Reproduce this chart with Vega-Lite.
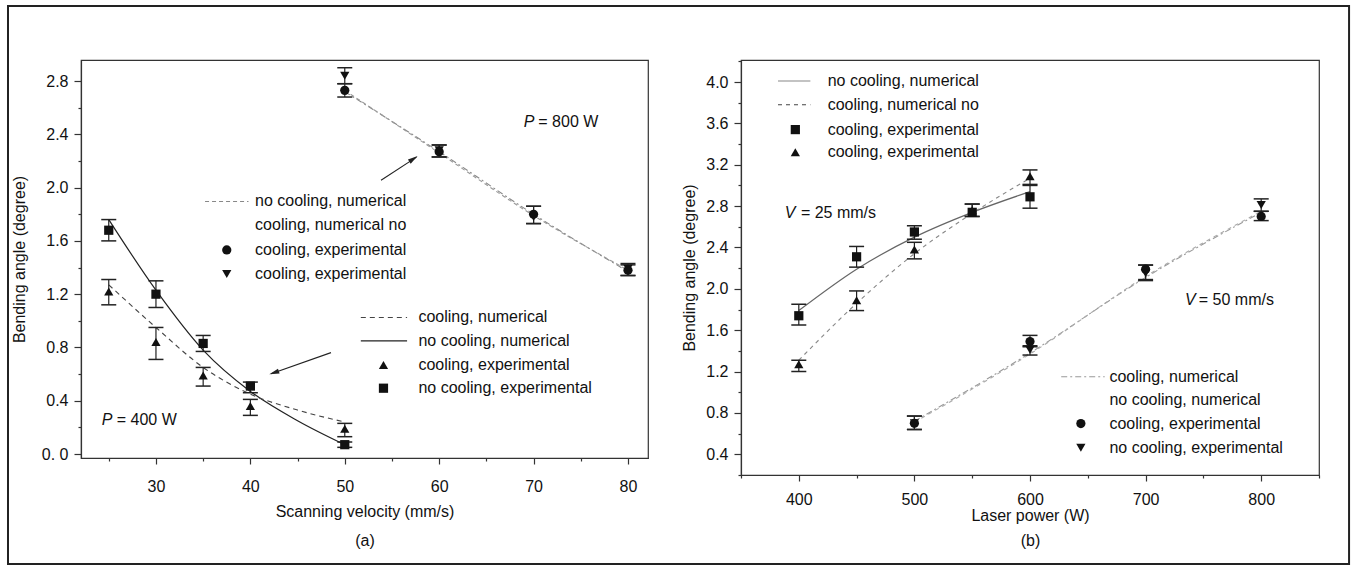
{
  "$schema": "https://vega.github.io/schema/vega-lite/v6.json",
  "background": "white",
  "padding": {"left": 6, "top": 4, "right": 0, "bottom": 0},
  "bounds": "flush",
  "spacing": 93,
  "config": {
    "font": "Liberation Sans",
    "view": {"stroke": "#333", "strokeWidth": 1.2},
    "axis": {"grid": false, "labelOverlap": false, "domainColor": "#333", "domainWidth": 1.2, "tickColor": "#333", "tickWidth": 1.2, "labelColor": "#111", "titleColor": "#111", "labelFontSize": 16, "titleFontSize": 16, "titleFontWeight": "normal", "labelFont": "Liberation Sans", "titleFont": "Liberation Sans"},
    "text": {"font": "Liberation Sans", "fontSize": 16, "color": "#111"}
  },
  "datasets": {
    "a_pts": [
      {"v": 25, "angle": 1.68, "lo": 1.60, "hi": 1.76, "series": "400 W no cooling exp"},
      {"v": 30, "angle": 1.20, "lo": 1.10, "hi": 1.30, "series": "400 W no cooling exp"},
      {"v": 35, "angle": 0.83, "lo": 0.77, "hi": 0.89, "series": "400 W no cooling exp"},
      {"v": 40, "angle": 0.51, "lo": 0.46, "hi": 0.54, "series": "400 W no cooling exp"},
      {"v": 50, "angle": 0.07, "lo": 0.05, "hi": 0.09, "series": "400 W no cooling exp"},
      {"v": 25, "angle": 1.22, "lo": 1.12, "hi": 1.31, "series": "400 W cooling exp"},
      {"v": 30, "angle": 0.84, "lo": 0.71, "hi": 0.95, "series": "400 W cooling exp"},
      {"v": 35, "angle": 0.59, "lo": 0.51, "hi": 0.65, "series": "400 W cooling exp"},
      {"v": 40, "angle": 0.36, "lo": 0.29, "hi": 0.41, "series": "400 W cooling exp"},
      {"v": 50, "angle": 0.19, "lo": 0.13, "hi": 0.23, "series": "400 W cooling exp"},
      {"v": 50, "angle": 2.73, "lo": 2.68, "hi": 2.78, "series": "800 W cooling exp"},
      {"v": 60, "angle": 2.27, "lo": 2.23, "hi": 2.32, "series": "800 W cooling exp"},
      {"v": 70, "angle": 1.80, "lo": 1.73, "hi": 1.86, "series": "800 W cooling exp"},
      {"v": 80, "angle": 1.38, "lo": 1.34, "hi": 1.42, "series": "800 W cooling exp"},
      {"v": 50, "angle": 2.84, "lo": 2.78, "hi": 2.90, "series": "800 W no cooling exp"},
      {"v": 60, "angle": 2.28, "lo": 2.23, "hi": 2.32, "series": "800 W no cooling exp"},
      {"v": 70, "angle": 1.78, "lo": 1.73, "hi": 1.86, "series": "800 W no cooling exp"},
      {"v": 80, "angle": 1.39, "lo": 1.34, "hi": 1.43, "series": "800 W no cooling exp"}
    ],
    "a_lines": [
      {"v": 25, "angle": 1.76, "series": "400 W no cooling num"},
      {"v": 30, "angle": 1.23, "series": "400 W no cooling num"},
      {"v": 35, "angle": 0.78, "series": "400 W no cooling num"},
      {"v": 40, "angle": 0.47, "series": "400 W no cooling num"},
      {"v": 45, "angle": 0.25, "series": "400 W no cooling num"},
      {"v": 50, "angle": 0.07, "series": "400 W no cooling num"},
      {"v": 25, "angle": 1.27, "series": "400 W cooling num"},
      {"v": 30, "angle": 0.95, "series": "400 W cooling num"},
      {"v": 35, "angle": 0.65, "series": "400 W cooling num"},
      {"v": 40, "angle": 0.45, "series": "400 W cooling num"},
      {"v": 45, "angle": 0.33, "series": "400 W cooling num"},
      {"v": 50, "angle": 0.24, "series": "400 W cooling num"},
      {"v": 50, "angle": 2.72, "series": "800 W no cooling num"},
      {"v": 60, "angle": 2.27, "series": "800 W no cooling num"},
      {"v": 70, "angle": 1.80, "series": "800 W no cooling num"},
      {"v": 80, "angle": 1.37, "series": "800 W no cooling num"},
      {"v": 50, "angle": 2.73, "series": "800 W cooling num"},
      {"v": 60, "angle": 2.26, "series": "800 W cooling num"},
      {"v": 70, "angle": 1.79, "series": "800 W cooling num"},
      {"v": 80, "angle": 1.38, "series": "800 W cooling num"}
    ],
    "b_pts": [
      {"p": 400, "angle": 1.74, "lo": 1.65, "hi": 1.85, "series": "25 mm/s no cooling exp"},
      {"p": 450, "angle": 2.31, "lo": 2.21, "hi": 2.41, "series": "25 mm/s no cooling exp"},
      {"p": 500, "angle": 2.55, "lo": 2.48, "hi": 2.61, "series": "25 mm/s no cooling exp"},
      {"p": 550, "angle": 2.74, "lo": 2.70, "hi": 2.82, "series": "25 mm/s no cooling exp"},
      {"p": 600, "angle": 2.89, "lo": 2.78, "hi": 3.00, "series": "25 mm/s no cooling exp"},
      {"p": 400, "angle": 1.27, "lo": 1.20, "hi": 1.31, "series": "25 mm/s cooling exp"},
      {"p": 450, "angle": 1.89, "lo": 1.79, "hi": 1.98, "series": "25 mm/s cooling exp"},
      {"p": 500, "angle": 2.38, "lo": 2.29, "hi": 2.45, "series": "25 mm/s cooling exp"},
      {"p": 550, "angle": 2.76, "lo": 2.70, "hi": 2.82, "series": "25 mm/s cooling exp"},
      {"p": 600, "angle": 3.09, "lo": 3.01, "hi": 3.15, "series": "25 mm/s cooling exp"},
      {"p": 500, "angle": 0.70, "lo": 0.64, "hi": 0.77, "series": "50 mm/s cooling exp"},
      {"p": 600, "angle": 1.49, "lo": 1.44, "hi": 1.55, "series": "50 mm/s cooling exp"},
      {"p": 700, "angle": 2.19, "lo": 2.09, "hi": 2.23, "series": "50 mm/s cooling exp"},
      {"p": 800, "angle": 2.70, "lo": 2.66, "hi": 2.75, "series": "50 mm/s cooling exp"},
      {"p": 500, "angle": 0.70, "lo": 0.64, "hi": 0.77, "series": "50 mm/s no cooling exp"},
      {"p": 600, "angle": 1.41, "lo": 1.36, "hi": 1.45, "series": "50 mm/s no cooling exp"},
      {"p": 700, "angle": 2.15, "lo": 2.08, "hi": 2.23, "series": "50 mm/s no cooling exp"},
      {"p": 800, "angle": 2.81, "lo": 2.75, "hi": 2.87, "series": "50 mm/s no cooling exp"}
    ],
    "b_lines": [
      {"p": 400, "angle": 1.79, "series": "25 mm/s no cooling num"},
      {"p": 450, "angle": 2.19, "series": "25 mm/s no cooling num"},
      {"p": 500, "angle": 2.50, "series": "25 mm/s no cooling num"},
      {"p": 550, "angle": 2.74, "series": "25 mm/s no cooling num"},
      {"p": 600, "angle": 2.94, "series": "25 mm/s no cooling num"},
      {"p": 400, "angle": 1.31, "series": "25 mm/s cooling num"},
      {"p": 450, "angle": 1.86, "series": "25 mm/s cooling num"},
      {"p": 500, "angle": 2.34, "series": "25 mm/s cooling num"},
      {"p": 550, "angle": 2.73, "series": "25 mm/s cooling num"},
      {"p": 600, "angle": 3.07, "series": "25 mm/s cooling num"},
      {"p": 500, "angle": 0.72, "series": "50 mm/s cooling num"},
      {"p": 600, "angle": 1.38, "series": "50 mm/s cooling num"},
      {"p": 700, "angle": 2.11, "series": "50 mm/s cooling num"},
      {"p": 800, "angle": 2.74, "series": "50 mm/s cooling num"},
      {"p": 500, "angle": 0.71, "series": "50 mm/s no cooling num"},
      {"p": 600, "angle": 1.37, "series": "50 mm/s no cooling num"},
      {"p": 700, "angle": 2.12, "series": "50 mm/s no cooling num"},
      {"p": 800, "angle": 2.75, "series": "50 mm/s no cooling num"}
    ]
  },
  "resolve": {"scale": {"x": "independent", "y": "independent", "shape": "independent"}},
  "hconcat": [
    {
      "width": 567,
      "height": 398,
      "resolve": {"axis": {"x": "independent", "y": "independent"}},
      "layer": [
        {
          "encoding": {
            "x": {"field": "v", "type": "quantitative", "scale": {"domain": [22.06, 82.12], "nice": false, "zero": false},
              "axis": {"values": [25, 30, 35, 40, 45, 50, 55, 60, 65, 70, 75, 80], "format": "d",
                "labelExpr": "datum.value % 10 === 0 ? datum.label : ''",
                "tickSize": {"condition": {"test": "datum.value % 10 === 0", "value": 6}, "value": 3},
                "labelPadding": 14, "title": ["Scanning velocity (mm/s)", "(a)"], "titlePadding": 9, "titleLineHeight": 29}},
            "y": {"field": "angle", "type": "quantitative", "scale": {"domain": [-0.03, 2.958], "nice": false, "zero": false},
              "axis": {"values": [0, 0.2, 0.4, 0.6, 0.8, 1.0, 1.2, 1.4, 1.6, 1.8, 2.0, 2.2, 2.4, 2.6, 2.8], "format": ".1f",
                "labelExpr": "datum.value === 0 ? '0. 0' : (round(datum.value * 10) % 4 === 0 ? datum.label : '')",
                "tickSize": {"condition": {"test": "round(datum.value * 10) % 4 === 0", "value": 7}, "value": 3},
                "labelPadding": 6, "title": "Bending angle (degree)", "titlePadding": 14}}
          },
          "layer": [
            {"data": {"name": "a_lines"}, "transform": [{"filter": "datum.series === '400 W no cooling num'"}],
              "mark": {"type": "line", "color": "#222", "strokeWidth": 1.2, "interpolate": "monotone"}, "encoding": {}},
            {"data": {"name": "a_lines"}, "transform": [{"filter": "datum.series === '400 W cooling num'"}],
              "mark": {"type": "line", "color": "#444", "strokeWidth": 1.1, "strokeDash": [5, 4], "interpolate": "monotone"}, "encoding": {}},
            {"data": {"name": "a_lines"}, "transform": [{"filter": "datum.series === '800 W no cooling num'"}],
              "mark": {"type": "line", "color": "#888", "strokeWidth": 1.1, "strokeDash": [6, 3, 2, 3], "interpolate": "monotone"}, "encoding": {}},
            {"data": {"name": "a_lines"}, "transform": [{"filter": "datum.series === '800 W cooling num'"}],
              "mark": {"type": "line", "color": "#999", "strokeWidth": 1.1, "strokeDash": [4, 3], "interpolate": "monotone"}, "encoding": {}},
            {"data": {"name": "a_pts"}, "mark": {"type": "rule", "color": "#222", "strokeWidth": 1.2},
              "encoding": {"y": {"field": "lo", "type": "quantitative"}, "y2": {"field": "hi"}}},
            {"data": {"name": "a_pts"}, "mark": {"type": "tick", "orient": "horizontal", "size": 15, "thickness": 1.5, "color": "#222", "opacity": 1},
              "encoding": {"y": {"field": "lo", "type": "quantitative"}}},
            {"data": {"name": "a_pts"}, "mark": {"type": "tick", "orient": "horizontal", "size": 15, "thickness": 1.5, "color": "#222", "opacity": 1},
              "encoding": {"y": {"field": "hi", "type": "quantitative"}}},
            {"data": {"name": "a_pts"}, "mark": {"type": "point", "filled": true, "opacity": 1, "size": 85, "color": "#111"},
              "encoding": {"shape": {"field": "series", "type": "nominal", "legend": null,
                "scale": {"domain": ["400 W no cooling exp", "400 W cooling exp", "800 W cooling exp", "800 W no cooling exp"], "range": ["square", "triangle-up", "circle", "triangle-down"]}}}}
          ]
        },
        {
          "data": {"values": [{"k": 1}]},
          "layer": [
            {"mark": {"type": "rect", "clip": false, "fillOpacity": 0, "stroke": "#222", "strokeWidth": 2},
              "encoding": {"x": {"datum": 14.327, "axis": null}, "x2": {"datum": 156.38}, "y": {"datum": 3.3634, "axis": null}, "y2": {"datum": -0.8258}}},
            {"mark": {"type": "rule", "color": "#222", "strokeWidth": 1.1},
              "encoding": {"x": {"datum": 53.84, "axis": null}, "y": {"datum": 2.055, "axis": null}, "x2": {"datum": 57.6}, "y2": {"datum": 2.229}}},
            {"mark": {"type": "point", "filled": true, "opacity": 1, "color": "#222", "size": 400, "shape": "M0,0L0.25,1L-0.25,1Z", "angle": 56.5},
              "encoding": {"x": {"datum": 57.72, "axis": null}, "y": {"datum": 2.237, "axis": null}}},
            {"mark": {"type": "rule", "color": "#222", "strokeWidth": 1.1},
              "encoding": {"x": {"datum": 48.54, "axis": null}, "y": {"datum": 0.761, "axis": null}, "x2": {"datum": 42.2}, "y2": {"datum": 0.602}}},
            {"mark": {"type": "point", "filled": true, "opacity": 1, "color": "#222", "size": 400, "shape": "M0,0L0.25,1L-0.25,1Z", "angle": 250.7},
              "encoding": {"x": {"datum": 42.01, "axis": null}, "y": {"datum": 0.598, "axis": null}}},
            {"mark": {"type": "rule", "color": "#888", "strokeWidth": 1.1, "strokeDash": [4, 3]},
              "encoding": {"x": {"datum": 35.2, "axis": null}, "x2": {"datum": 39.8}, "y": {"datum": 1.896, "axis": null}}},
            {"mark": {"type": "rule", "color": "#444", "strokeWidth": 1.1, "strokeDash": [5, 4]},
              "encoding": {"x": {"datum": 51.7, "axis": null}, "x2": {"datum": 56.6}, "y": {"datum": 1.025, "axis": null}}},
            {"mark": {"type": "rule", "color": "#222", "strokeWidth": 1.2},
              "encoding": {"x": {"datum": 51.7, "axis": null}, "x2": {"datum": 56.6}, "y": {"datum": 0.85, "axis": null}}},
            {"mark": {"type": "point", "filled": true, "opacity": 1, "size": 85, "color": "#111", "shape": "circle"},
              "encoding": {"x": {"datum": 37.5, "axis": null}, "y": {"datum": 1.532, "axis": null}}},
            {"mark": {"type": "point", "filled": true, "opacity": 1, "size": 85, "color": "#111", "shape": "triangle-down"},
              "encoding": {"x": {"datum": 37.5, "axis": null}, "y": {"datum": 1.351, "axis": null}}},
            {"mark": {"type": "point", "filled": true, "opacity": 1, "size": 85, "color": "#111", "shape": "triangle-up"},
              "encoding": {"x": {"datum": 54.1, "axis": null}, "y": {"datum": 0.669, "axis": null}}},
            {"mark": {"type": "point", "filled": true, "opacity": 1, "size": 85, "color": "#111", "shape": "square"},
              "encoding": {"x": {"datum": 54.1, "axis": null}, "y": {"datum": 0.494, "axis": null}}},
            {"mark": {"type": "text", "text": "no cooling, numerical", "align": "left", "baseline": "middle"},
              "encoding": {"x": {"datum": 40.5, "axis": null}, "y": {"datum": 1.896, "axis": null}}},
            {"mark": {"type": "text", "text": "cooling, numerical no", "align": "left", "baseline": "middle"},
              "encoding": {"x": {"datum": 40.5, "axis": null}, "y": {"datum": 1.716, "axis": null}}},
            {"mark": {"type": "text", "text": "cooling, experimental", "align": "left", "baseline": "middle"},
              "encoding": {"x": {"datum": 40.5, "axis": null}, "y": {"datum": 1.532, "axis": null}}},
            {"mark": {"type": "text", "text": "cooling, experimental", "align": "left", "baseline": "middle"},
              "encoding": {"x": {"datum": 40.5, "axis": null}, "y": {"datum": 1.351, "axis": null}}},
            {"mark": {"type": "text", "text": "cooling, numerical", "align": "left", "baseline": "middle"},
              "encoding": {"x": {"datum": 57.8, "axis": null}, "y": {"datum": 1.025, "axis": null}}},
            {"mark": {"type": "text", "text": "no cooling, numerical", "align": "left", "baseline": "middle"},
              "encoding": {"x": {"datum": 57.8, "axis": null}, "y": {"datum": 0.85, "axis": null}}},
            {"mark": {"type": "text", "text": "cooling, experimental", "align": "left", "baseline": "middle"},
              "encoding": {"x": {"datum": 57.8, "axis": null}, "y": {"datum": 0.669, "axis": null}}},
            {"mark": {"type": "text", "text": "no cooling, experimental", "align": "left", "baseline": "middle"},
              "encoding": {"x": {"datum": 57.8, "axis": null}, "y": {"datum": 0.494, "axis": null}}},
            {"mark": {"type": "text", "text": "P", "fontStyle": "italic", "align": "left", "baseline": "middle"},
              "encoding": {"x": {"datum": 68.97, "axis": null}, "y": {"datum": 2.49, "axis": null}}},
            {"mark": {"type": "text", "text": "= 800 W", "align": "left", "baseline": "middle"},
              "encoding": {"x": {"datum": 70.5, "axis": null}, "y": {"datum": 2.49, "axis": null}}},
            {"mark": {"type": "text", "text": "P", "fontStyle": "italic", "align": "left", "baseline": "middle"},
              "encoding": {"x": {"datum": 24.26, "axis": null}, "y": {"datum": 0.256, "axis": null}}},
            {"mark": {"type": "text", "text": "= 400 W", "align": "left", "baseline": "middle"},
              "encoding": {"x": {"datum": 25.85, "axis": null}, "y": {"datum": 0.256, "axis": null}}}
          ]
        }
      ]
    },
    {
      "width": 578,
      "height": 415,
      "resolve": {"axis": {"x": "independent", "y": "independent"}},
      "layer": [
        {
          "encoding": {
            "x": {"field": "p", "type": "quantitative", "scale": {"domain": [350, 850], "nice": false, "zero": false},
              "axis": {"values": [350, 400, 450, 500, 550, 600, 650, 700, 750, 800, 850], "format": "d",
                "labelExpr": "datum.value % 100 === 0 ? datum.label : ''",
                "tickSize": {"condition": {"test": "datum.value % 100 === 0", "value": 6}, "value": 3},
                "encode": {"labels": {"update": {"dx": {"signal": "datum.value === 400 ? 30 : 0"}}}},
                "labelPadding": 10, "title": ["Laser power (W)", "(b)"], "titlePadding": 0, "titleLineHeight": 25}},
            "y": {"field": "angle", "type": "quantitative", "scale": {"domain": [0.2, 4.213], "nice": false, "zero": false},
              "axis": {"values": [0.2, 0.4, 0.6, 0.8, 1.0, 1.2, 1.4, 1.6, 1.8, 2.0, 2.2, 2.4, 2.6, 2.8, 3.0, 3.2, 3.4, 3.6, 3.8, 4.0, 4.2], "format": ".1f",
                "labelExpr": "round(datum.value * 10) % 4 === 0 ? datum.label : ''",
                "tickSize": {"condition": {"test": "round(datum.value * 10) % 4 === 0", "value": 7}, "value": 3},
                "labelPadding": 6, "title": "Bending angle (degree)", "titlePadding": 8}}
          },
          "layer": [
            {"data": {"name": "b_lines"}, "transform": [{"filter": "datum.series === '25 mm/s no cooling num'"}],
              "mark": {"type": "line", "color": "#666", "strokeWidth": 1.2, "interpolate": "monotone"}, "encoding": {}},
            {"data": {"name": "b_lines"}, "transform": [{"filter": "datum.series === '25 mm/s cooling num'"}],
              "mark": {"type": "line", "color": "#888", "strokeWidth": 1.1, "strokeDash": [4, 4], "interpolate": "monotone"}, "encoding": {}},
            {"data": {"name": "b_lines"}, "transform": [{"filter": "datum.series === '50 mm/s cooling num'"}],
              "mark": {"type": "line", "color": "#999", "strokeWidth": 1.1, "strokeDash": [6, 3, 2, 3], "interpolate": "monotone"}, "encoding": {}},
            {"data": {"name": "b_lines"}, "transform": [{"filter": "datum.series === '50 mm/s no cooling num'"}],
              "mark": {"type": "line", "color": "#aaa", "strokeWidth": 1.1, "strokeDash": [4, 4], "interpolate": "monotone"}, "encoding": {}},
            {"data": {"name": "b_pts"}, "mark": {"type": "rule", "color": "#222", "strokeWidth": 1.2},
              "encoding": {"y": {"field": "lo", "type": "quantitative"}, "y2": {"field": "hi"}}},
            {"data": {"name": "b_pts"}, "mark": {"type": "tick", "orient": "horizontal", "size": 15, "thickness": 1.5, "color": "#222", "opacity": 1},
              "encoding": {"y": {"field": "lo", "type": "quantitative"}}},
            {"data": {"name": "b_pts"}, "mark": {"type": "tick", "orient": "horizontal", "size": 15, "thickness": 1.5, "color": "#222", "opacity": 1},
              "encoding": {"y": {"field": "hi", "type": "quantitative"}}},
            {"data": {"name": "b_pts"}, "mark": {"type": "point", "filled": true, "opacity": 1, "size": 85, "color": "#111"},
              "encoding": {"shape": {"field": "series", "type": "nominal", "legend": null,
                "scale": {"domain": ["25 mm/s no cooling exp", "25 mm/s cooling exp", "50 mm/s cooling exp", "50 mm/s no cooling exp"], "range": ["square", "triangle-up", "circle", "triangle-down"]}}}}
          ]
        },
        {
          "data": {"values": [{"k": 1}]},
          "layer": [
            {"mark": {"type": "rule", "color": "#888", "strokeWidth": 1.2},
              "encoding": {"x": {"datum": 382, "axis": null}, "x2": {"datum": 410}, "y": {"datum": 4.01, "axis": null}}},
            {"mark": {"type": "rule", "color": "#444", "strokeWidth": 1.1, "strokeDash": [4, 4]},
              "encoding": {"x": {"datum": 382, "axis": null}, "x2": {"datum": 410}, "y": {"datum": 3.78, "axis": null}}},
            {"mark": {"type": "rule", "color": "#999", "strokeWidth": 1.1, "strokeDash": [6, 3, 2, 3]},
              "encoding": {"x": {"datum": 627, "axis": null}, "x2": {"datum": 664.6}, "y": {"datum": 1.15, "axis": null}}},
            {"mark": {"type": "point", "filled": true, "opacity": 1, "size": 85, "color": "#111", "shape": "square"},
              "encoding": {"x": {"datum": 397, "axis": null}, "y": {"datum": 3.54, "axis": null}}},
            {"mark": {"type": "point", "filled": true, "opacity": 1, "size": 85, "color": "#111", "shape": "triangle-up"},
              "encoding": {"x": {"datum": 397, "axis": null}, "y": {"datum": 3.32, "axis": null}}},
            {"mark": {"type": "point", "filled": true, "opacity": 1, "size": 85, "color": "#111", "shape": "circle"},
              "encoding": {"x": {"datum": 644, "axis": null}, "y": {"datum": 0.697, "axis": null}}},
            {"mark": {"type": "point", "filled": true, "opacity": 1, "size": 85, "color": "#111", "shape": "triangle-down"},
              "encoding": {"x": {"datum": 644, "axis": null}, "y": {"datum": 0.464, "axis": null}}},
            {"mark": {"type": "text", "text": "no cooling, numerical", "align": "left", "baseline": "middle"},
              "encoding": {"x": {"datum": 425, "axis": null}, "y": {"datum": 4.01, "axis": null}}},
            {"mark": {"type": "text", "text": "cooling, numerical no", "align": "left", "baseline": "middle"},
              "encoding": {"x": {"datum": 425, "axis": null}, "y": {"datum": 3.78, "axis": null}}},
            {"mark": {"type": "text", "text": "cooling, experimental", "align": "left", "baseline": "middle"},
              "encoding": {"x": {"datum": 425, "axis": null}, "y": {"datum": 3.54, "axis": null}}},
            {"mark": {"type": "text", "text": "cooling, experimental", "align": "left", "baseline": "middle"},
              "encoding": {"x": {"datum": 425, "axis": null}, "y": {"datum": 3.32, "axis": null}}},
            {"mark": {"type": "text", "text": "cooling, numerical", "align": "left", "baseline": "middle"},
              "encoding": {"x": {"datum": 668.7, "axis": null}, "y": {"datum": 1.15, "axis": null}}},
            {"mark": {"type": "text", "text": "no cooling, numerical", "align": "left", "baseline": "middle"},
              "encoding": {"x": {"datum": 668.7, "axis": null}, "y": {"datum": 0.925, "axis": null}}},
            {"mark": {"type": "text", "text": "cooling, experimental", "align": "left", "baseline": "middle"},
              "encoding": {"x": {"datum": 668.7, "axis": null}, "y": {"datum": 0.697, "axis": null}}},
            {"mark": {"type": "text", "text": "no cooling, experimental", "align": "left", "baseline": "middle"},
              "encoding": {"x": {"datum": 668.7, "axis": null}, "y": {"datum": 0.464, "axis": null}}},
            {"mark": {"type": "text", "text": "V", "fontStyle": "italic", "align": "left", "baseline": "middle"},
              "encoding": {"x": {"datum": 387.8, "axis": null}, "y": {"datum": 2.733, "axis": null}}},
            {"mark": {"type": "text", "text": "= 25 mm/s", "align": "left", "baseline": "middle"},
              "encoding": {"x": {"datum": 401.8, "axis": null}, "y": {"datum": 2.733, "axis": null}}},
            {"mark": {"type": "text", "text": "V", "fontStyle": "italic", "align": "left", "baseline": "middle"},
              "encoding": {"x": {"datum": 734, "axis": null}, "y": {"datum": 1.892, "axis": null}}},
            {"mark": {"type": "text", "text": "= 50 mm/s", "align": "left", "baseline": "middle"},
              "encoding": {"x": {"datum": 746, "axis": null}, "y": {"datum": 1.892, "axis": null}}}
          ]
        }
      ]
    }
  ]
}
